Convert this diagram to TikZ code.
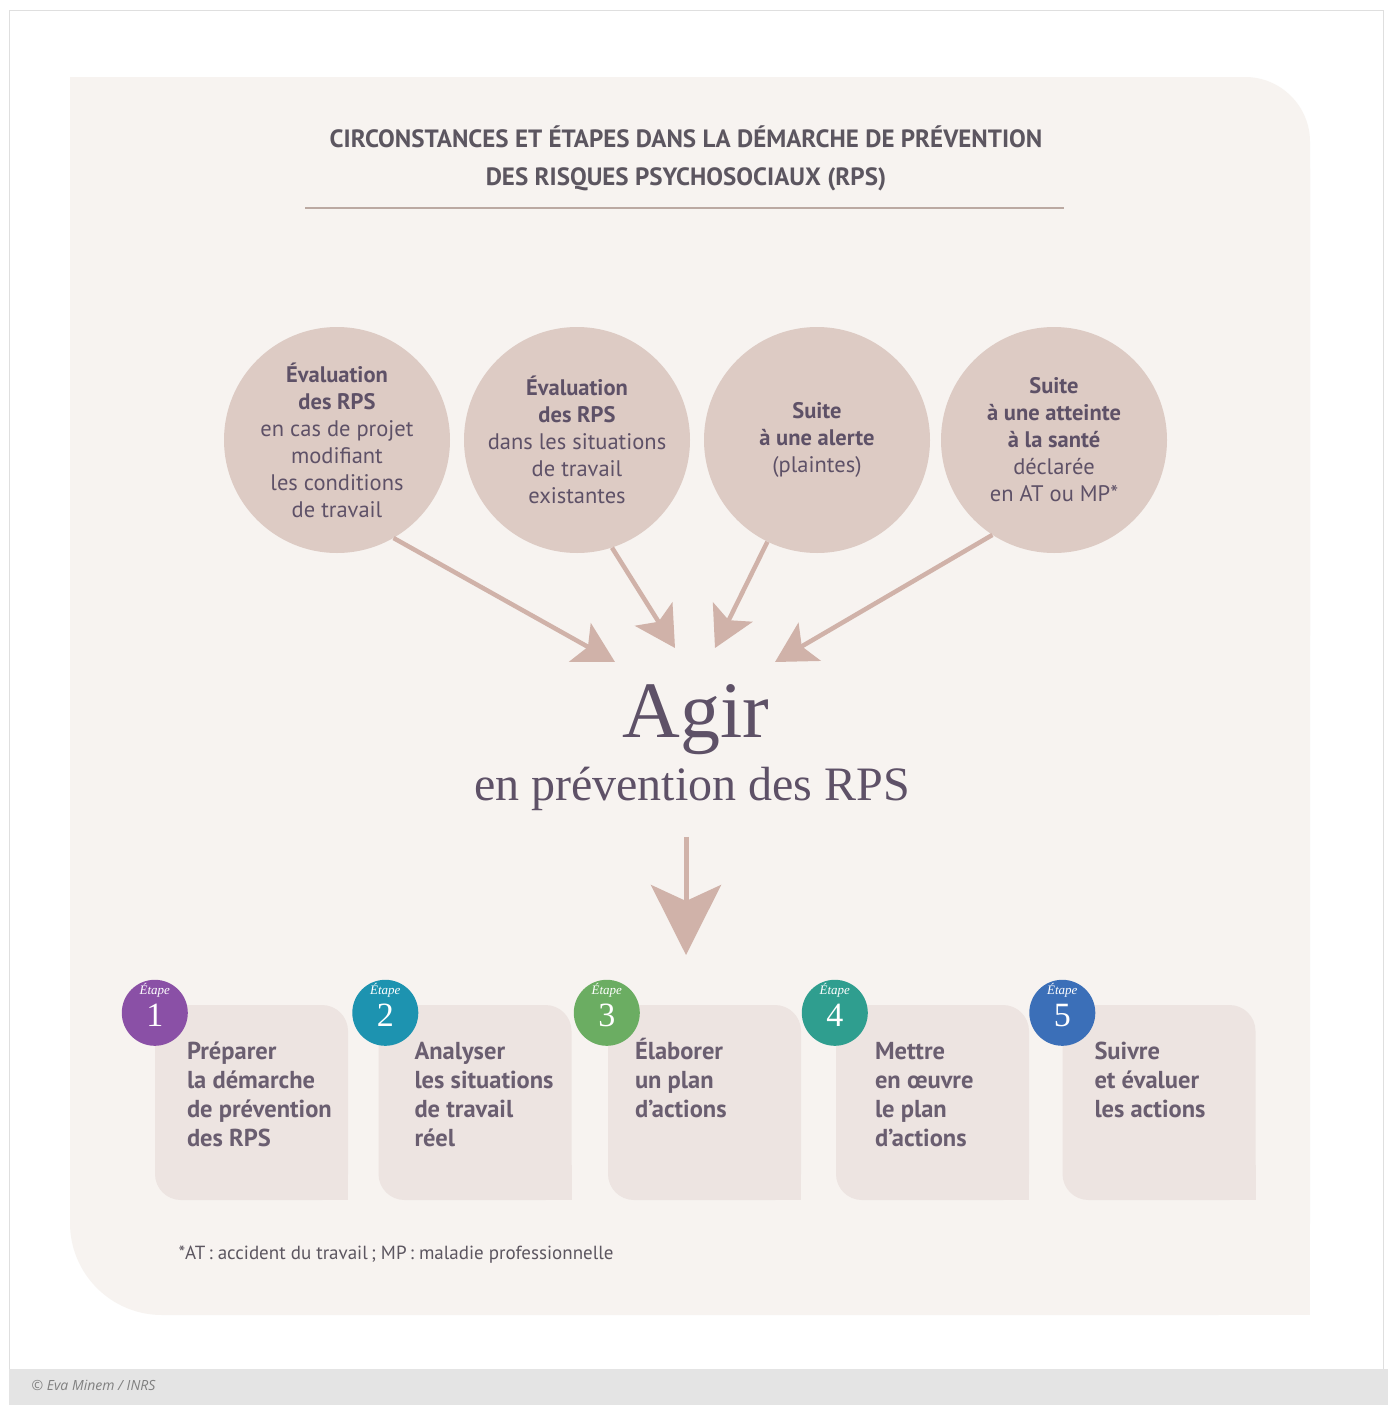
\documentclass[tikz,border=0pt]{standalone}
\usepackage{fontspec}
\setmainfont{PT Sans}
\newfontfamily\agirfont{Liberation Serif}
\newfontfamily\creditfont{Open Sans}
\usetikzlibrary{arrows.meta,shapes,calc}
\definecolor{panelFill}{HTML}{F7F3F0}
\definecolor{circleFill}{HTML}{DDCBC4}
\definecolor{boxFill}{HTML}{EDE4E1}
\definecolor{arrowTan}{HTML}{D0B2A9}
\definecolor{inkPlum}{HTML}{5E5167}
\definecolor{stepInk}{HTML}{6A5E70}
\definecolor{titleInk}{HTML}{5C5660}
\definecolor{ruleTan}{HTML}{BBA9A2}
\definecolor{stripGray}{HTML}{E4E4E4}
\definecolor{etapeViolet}{HTML}{8A50A6}
\definecolor{etapeCyan}{HTML}{1D93B0}
\definecolor{etapeGreen}{HTML}{6BAD62}
\definecolor{etapeTeal}{HTML}{2F9E8F}
\definecolor{etapeBlue}{HTML}{3B6FB8}
\tikzset{%
  >={Stealth[length=40pt,width=44pt,inset=9pt]},
  % Specifications for style of nodes:
     circ/.style = {circle, fill=circleFill, minimum size=226pt, inner sep=0pt,
                    text=inkPlum, font=\fontsize{22.5}{27}\selectfont, align=center},
     titleText/.style = {text=titleInk, font=\bfseries\fontsize{25}{38}\selectfont, align=center},
     agirText/.style = {text=inkPlum, font=\agirfont\fontsize{80}{80}\selectfont, anchor=base},
     subText/.style = {text=inkPlum, font=\agirfont\fontsize{48}{48}\selectfont, anchor=base},
     stepBox/.style = {rectangle, rounded corners=26pt, fill=boxFill,
                       minimum width=193pt, minimum height=195pt,
                       append after command={\pgfextra{\fill[boxFill, sharp corners]
                         (\tikzlastnode.south east) rectangle ([xshift=-35pt,yshift=35pt]\tikzlastnode.south east);}}},
     stepText/.style = {anchor=north west, inner sep=0pt, text=stepInk, align=left,
                        font=\bfseries\fontsize{24.5}{29}\selectfont},
     badge/.style = {circle, minimum size=66pt, inner sep=0pt, text=white,
                     text height=28pt, text depth=0pt,
                     font=\agirfont\fontsize{34}{34}\selectfont,
                     label={[text=white, inner sep=0pt, label distance=-18pt,
                             font=\agirfont\itshape\fontsize{13}{13}\selectfont]north:Étape}},
     flowArrow/.style = {->, draw=arrowTan, line width=4.5pt},
}

\begin{document}
\begin{tikzpicture}[x=1pt, y=-1pt, node distance=240pt]
  \useasboundingbox (0,0) rectangle (1388,1405);
  % background, frame and panel
  \fill[white] (0,0) rectangle (1388,1405);
  \draw[gray!25, line width=1pt] (9,11) rectangle (1383,1369);
  \fill[stripGray] (9,1369) rectangle (1388,1405);
  \fill[panelFill, rounded corners=92pt] (70,77) rectangle (1310,1315);
  \fill[panelFill, rounded corners=65pt] (600,77) rectangle (1310,700);
  \fill[panelFill] (70,77) rectangle (300,300);
  \fill[panelFill] (1000,1000) rectangle (1310,1315);

  % Specification of nodes (position, etc.)
  \node (mainTitle) [titleText] at (686,158)
                    {CIRCONSTANCES ET ÉTAPES DANS LA DÉMARCHE DE PRÉVENTION\\
                     DES RISQUES PSYCHOSOCIAUX (RPS)};
  \draw[ruleTan, line width=1.2pt] (305,208) -- (1064,208);

  \node (evalProject)  [circ] at (337,440)
                       {\textbf{Évaluation}\\\textbf{des RPS}\\en cas de projet\\
                        modifiant\\les conditions\\de travail};
  \node (evalExisting) [circ, right of=evalProject]
                       {\textbf{Évaluation}\\\textbf{des RPS}\\dans les situations\\
                        de travail\\existantes};
  \node (afterAlert)   [circ, right of=evalExisting]
                       {\textbf{Suite}\\\textbf{à une alerte}\\(plaintes)};
  \node (afterHarm)    [circ, right of=afterAlert, xshift=-3pt]
                       {\textbf{Suite}\\\textbf{à une atteinte}\\\textbf{à la santé}\\
                        déclarée\\en AT ou MP*};

  \node (agirWord) [agirText] at (696,737) {Agir};
  \node (agirSub)  [subText]  at (692,800) {en prévention des RPS};

  \coordinate (tipProject)  at (615,662);
  \coordinate (tipExisting) at (675,648);
  \coordinate (tipAlert)    at (715,648);
  \coordinate (tipHarm)     at (775,662);
  \coordinate (tipDown)     at (686,955);

  \node (prepareStep)   [stepBox] at (251.5,1102.5) {};
  \node (analyseStep)   [stepBox, node distance=227pt, right of=prepareStep, xshift=-3.5pt] {};
  \node (planStep)      [stepBox, node distance=227pt, right of=analyseStep, xshift=2.5pt] {};
  \node (implementStep) [stepBox, node distance=227pt, right of=planStep, xshift=1pt] {};
  \node (followStep)    [stepBox, node distance=227pt, right of=implementStep, xshift=-0.5pt] {};

  \node (prepareText)   [stepText] at ([xshift=32pt,yshift=-37pt]prepareStep.north west)
                        {Préparer\\la démarche\\de prévention\\des RPS};
  \node (analyseText)   [stepText] at ([xshift=36pt,yshift=-37pt]analyseStep.north west)
                        {Analyser\\les situations\\de travail\\réel};
  \node (planText)      [stepText] at ([xshift=27pt,yshift=-33pt]planStep.north west)
                        {Élaborer\\un plan\\d’actions};
  \node (implementText) [stepText] at ([xshift=39pt,yshift=-37pt]implementStep.north west)
                        {Mettre\\en œuvre\\le plan\\d’actions};
  \node (followText)    [stepText] at ([xshift=32pt,yshift=-37pt]followStep.north west)
                        {Suivre\\et évaluer\\les actions};

  \node (prepareBadge)   [badge, fill=etapeViolet] at ([xshift=0pt,yshift=-8pt]prepareStep.north west) {1};
  \node (analyseBadge)   [badge, fill=etapeCyan]   at ([xshift=7pt,yshift=-8pt]analyseStep.north west) {2};
  \node (planBadge)      [badge, fill=etapeGreen]  at ([xshift=-1pt,yshift=-8pt]planStep.north west) {3};
  \node (implementBadge) [badge, fill=etapeTeal]   at ([xshift=-1pt,yshift=-8pt]implementStep.north west) {4};
  \node (followBadge)    [badge, fill=etapeBlue]   at ([xshift=0pt,yshift=-8pt]followStep.north west) {5};

  \node (footNote) [anchor=base west, text=titleInk, font=\fontsize{19}{19}\selectfont] at (175,1259)
                   {*AT\,: accident du travail\,; MP\,: maladie professionnelle};
  \node (credit)   [anchor=base west, text=gray, font=\creditfont\itshape\fontsize{14}{14}\selectfont] at (28,1390)
                   {© Eva Minem / INRS};

  % Specification of lines between nodes specified above
  \draw[flowArrow] (evalProject.-60)   -- (tipProject);
  \draw[flowArrow] (evalExisting.-72)  -- (tipExisting);
  \draw[flowArrow] (afterAlert.-116)   -- (tipAlert);
  \draw[flowArrow] (afterHarm.-123)    -- (tipHarm);

  \draw[flowArrow, line width=5pt, -{Stealth[length=70pt,width=70pt,inset=16pt]}]
        ($(agirSub.south -| tipDown)+(0,23)$) -- (tipDown);
\end{tikzpicture}
\end{document}
